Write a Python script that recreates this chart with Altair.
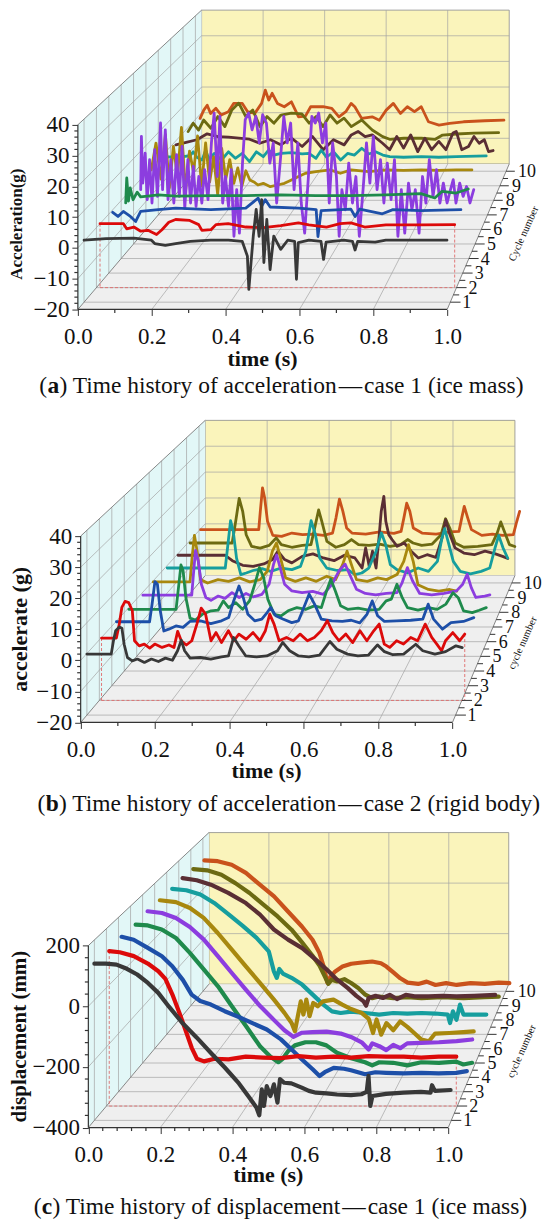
import altair as alt
import pandas as pd

SERIF = "Liberation Serif"

# ---------------- pseudo-3D projection constants (normalised) ----------------
DX = 0.335      # shift of the back face along the time direction
DU = 0.788      # upward shift of the back face
K = 0.167       # perspective shrink of the back face
UMAX = DU + 1 - K
TMAX = 1.17

CYCLES = [1, 2, 3, 4, 5, 6, 7, 8, 9, 10]
DEPTHS = [0.05, 0.15, 0.25, 0.35, 0.45, 0.55, 0.65, 0.75, 0.85, 0.95]
MIDDEPTHS = [0.1, 0.2, 0.3, 0.4, 0.5, 0.6, 0.7, 0.8, 0.9]
COLORS = ["#383838", "#dc0a0a", "#1d4fa8", "#1f8a4c", "#8c3ddf",
          "#a8880e", "#169e9e", "#5a2e34", "#6c6a12", "#c9521c"]
XMAJOR = [0.0, 0.2, 0.4, 0.6, 0.8, 1.0]
XMINOR_AB = [0.1, 0.3, 0.5, 0.7, 0.9]
XMINOR_C = [0.04, 0.08, 0.12, 0.16, 0.24, 0.28, 0.32, 0.36, 0.44, 0.48, 0.52, 0.56,
            0.64, 0.68, 0.72, 0.76, 0.84, 0.88, 0.92, 0.96]
XGRID = [0.2, 0.4, 0.6, 0.8]

# ---------------- (a) acceleration, case 1 (ice mass) ----------------
a1_t = [0.0, 0.06, 0.136, 0.184, 0.193, 0.222, 0.25, 0.29, 0.346, 0.394, 0.432, 0.446, 0.45, 0.456, 0.462, 0.47, 0.478, 0.485, 0.491, 0.499, 0.508, 0.518, 0.537, 0.556, 0.575, 0.58, 0.585, 0.614, 0.647, 0.654, 0.661, 0.709, 0.733, 0.74, 0.747, 0.795, 0.824, 0.919, 0.991]
a1_v = [0.3, 0.8, 1.0, 0.3, -0.8, -1.4, -0.8, -0.1, 0.3, 0.3, -0.1, -4.9, -15.8, -7.0, 1.6, 10.4, 1.6, 13.6, -7.0, 7.1, -9.3, 1.6, -2.7, 0.3, -0.1, -12.5, -0.5, 0.3, -0.1, -6.0, -0.3, 0.3, -0.1, -2.9, -0.1, -0.3, 0.3, 0.3, 0.3]
a2_t = [0.01, 0.075, 0.084, 0.104, 0.123, 0.143, 0.167, 0.182, 0.201, 0.22, 0.259, 0.284, 0.293, 0.318, 0.332, 0.366, 0.415, 0.464, 0.512, 0.561, 0.59, 0.639, 0.677, 0.707, 0.745, 0.804, 0.901, 0.995]
a2_v = [1.3, 1.3, -0.4, 0.2, -1.2, -0.9, -2.3, -0.7, 1.8, 2.7, 2.4, 1.0, -0.9, -0.7, 1.0, 1.3, 0.2, 0.0, 0.7, 1.6, 0.9, 0.2, 1.3, 1.6, 0.2, 0.9, 0.9, 1.0]
a3_t = [0.011, 0.026, 0.041, 0.061, 0.076, 0.09, 0.14, 0.189, 0.288, 0.387, 0.422, 0.432, 0.442, 0.456, 0.536, 0.586, 0.591, 0.6, 0.684, 0.696, 0.709, 0.773, 0.803, 0.882, 0.995]
a3_v = [0.6, -0.8, 0.9, -0.8, -2.5, 0.9, 1.5, 2.0, 1.5, 2.0, 5.4, 2.6, 4.9, 2.4, 2.0, 1.5, -7.6, 1.2, 1.7, -0.8, 1.7, 0.1, 1.5, 1.2, 1.5]
a4_t = [0.013, 0.016, 0.021, 0.026, 0.034, 0.046, 0.056, 0.107, 0.157, 0.258, 0.359, 0.459, 0.56, 0.661, 0.761, 0.862, 0.902, 0.923, 0.963, 0.998]
a4_v = [-0.8, 7.8, -0.2, 4.4, 0.3, 2.9, 1.3, 2.0, 1.5, 1.7, 1.7, 2.0, 1.7, 1.7, 2.0, 2.4, 0.9, 3.2, 2.6, 4.0]
a5_t = [0.021, 0.023, 0.027, 0.034, 0.040, 0.047, 0.054, 0.062, 0.070, 0.079,
        0.085, 0.093, 0.101, 0.109, 0.118, 0.126, 0.134, 0.142, 0.150, 0.159,
        0.167, 0.175, 0.183, 0.191, 0.200, 0.208, 0.218, 0.228, 0.236, 0.245,
        0.253, 0.261, 0.269, 0.278, 0.286, 0.294, 0.302, 0.310, 0.319, 0.327,
        0.337, 0.347, 0.358, 0.368, 0.378, 0.389, 0.399, 0.409, 0.419, 0.430,
        0.440, 0.450, 0.460, 0.470, 0.481, 0.491, 0.501, 0.512, 0.522, 0.532,
        0.542, 0.553, 0.563, 0.573, 0.583, 0.594, 0.602, 0.610, 0.620, 0.630,
        0.641, 0.651, 0.661, 0.672, 0.682, 0.692, 0.702, 0.713, 0.723, 0.733,
        0.743, 0.754, 0.764, 0.774, 0.784, 0.794, 0.805, 0.815, 0.825, 0.836,
        0.846, 0.856, 0.866, 0.877, 0.887, 0.897, 0.907, 0.918, 0.928, 0.936,
        0.944, 0.955, 0.965, 0.975, 0.985, 0.996]
a5_v = [-0.9, 17.8, 1.4, 11.9, -4.4, 9.6, -5.6, 13.1, -3.3, 22.5,
        -0.9, 20.1, -4.4, 9.6, -5.6, 11.4, -3.3, 14.3, -7.4, 9.6,
        -5.6, 7.3, -6.8, 3.7, -5.6, 6.1, -4.4, 15.5, 26.0, 3.7,
        24.8, -5.6, 3.7, -6.8, 6.1, -17.3, -0.9, -16.2, 8.4, 23.7,
        26.0, 20.1, 24.8, 15.5, 25.4, 22.5, 8.4, 15.5, -5.6, 9.6,
        24.8, 15.5, 22.5, -0.9, 15.5, -5.6, -16.2, 3.7, 24.8, 22.5,
        26.0, 15.5, 22.5, -5.6, 15.5, 3.7, -17.3, -0.9, -8.0, 8.4,
        -5.6, 3.7, -17.3, -0.9, 15.5, 1.4, 17.8, -0.9, 9.6, -5.6,
        8.4, -4.4, 9.6, -17.3, -0.9, -16.2, 1.4, -8.0, -0.9, -16.2,
        3.7, -5.6, 9.6, -3.3, 6.1, -5.6, 1.4, -5.6, -0.9, 2.6,
        -5.6, 1.4, -3.3, 0.2, -5.6, -0.9]
a6_t = [0.016, 0.03, 0.045, 0.058, 0.07, 0.082, 0.094, 0.106, 0.118, 0.13,
        0.142, 0.154, 0.166, 0.178, 0.19, 0.202, 0.214, 0.226, 0.238, 0.25,
        0.262, 0.274, 0.286, 0.298, 0.31, 0.322, 0.334,
        0.35, 0.371, 0.392, 0.413, 0.434, 0.455, 0.476, 0.507, 0.549, 0.58,
        0.612, 0.664, 0.716, 0.768, 0.821, 0.873, 0.925, 0.972]
a6_v = [1.3, 10.9, -2.0, 14.0, -5.0, 9.7, -1.0, 16.5, -6.5, 8.0,
        0.5, 13.5, -4.5, 11.0, -3.0, 6.0, -7.5, 9.0, -2.0, 5.0,
        -3.5, 2.0, -4.5, 1.0, -2.3, -3.0, -4.1,
        -3.5, -4.7, -4.1, -3.5, -2.3, -1.1, 0.1, 0.7, 1.3, 0.1,
        1.3, 0.7, 1.3, 1.1, 1.3, 1.1, 1.3, 1.3]
a7_t = [0.016, 0.053, 0.096, 0.106, 0.117, 0.133, 0.144, 0.154, 0.17, 0.192, 0.213, 0.234, 0.255, 0.277, 0.298, 0.319, 0.335, 0.351, 0.373, 0.405, 0.437, 0.458, 0.479, 0.495, 0.511, 0.532, 0.554, 0.575, 0.596, 0.618, 0.639, 0.66, 0.682, 0.703, 0.745, 0.799, 0.852, 0.905, 0.996]
a7_v = [1.2, 1.0, 1.5, 3.0, 1.0, 0.0, 3.6, 0.2, 2.4, 0.0, 3.0, 0.6, 2.4, -0.6, 3.0, 1.2, 3.6, 1.8, 2.4, 2.7, 2.2, 2.4, 0.6, 3.6, 1.0, 3.0, 0.0, 2.4, 1.8, 4.3, 2.2, 3.0, 1.8, 1.2, 1.0, 1.2, 1.0, 1.2, 1.5]
a8_t = [0.016, 0.048, 0.081, 0.113, 0.146, 0.179, 0.211, 0.244, 0.276, 0.309, 0.341, 0.374, 0.407, 0.439, 0.472, 0.504, 0.537, 0.559, 0.58, 0.602, 0.624, 0.656, 0.678, 0.7, 0.721, 0.743, 0.765, 0.787, 0.808, 0.83, 0.852, 0.874, 0.884, 0.901, 0.922, 0.939, 0.955, 0.971, 0.984, 0.998]
a8_v = [0.6, 1.5, 2.5, 4.7, 3.7, 3.5, 3.1, 2.7, 1.2, 2.5, 0.6, 3.1, 0.0, 3.7, -1.2, 2.5, 0.6, 4.3, 5.6, 3.7, 4.3, 1.2, -1.2, 3.7, -0.6, 4.3, -1.9, 3.1, -1.2, 1.9, -1.2, 5.0, 5.6, -1.2, 0.0, 3.7, 1.2, 2.5, -1.9, -1.5]
a9_t = [0.016, 0.032, 0.049, 0.065, 0.088, 0.11, 0.132, 0.154, 0.176, 0.198, 0.22, 0.243, 0.265, 0.287, 0.309, 0.342, 0.375, 0.398, 0.42, 0.442, 0.464, 0.486, 0.508, 0.531, 0.564, 0.597, 0.63, 0.652, 0.697, 0.752, 0.796, 0.819, 0.863, 0.918, 0.996]
a9_v = [0.5, 3.7, 1.1, 4.9, 1.8, 6.2, 2.4, 8.7, 11.3, 6.2, 8.7, 2.4, 6.2, 3.7, 6.8, 7.5, 7.2, 3.7, 6.2, 2.4, 6.8, 3.7, 5.6, 2.4, 4.9, 1.1, -1.4, -2.4, -2.0, -2.0, -2.4, -0.8, -0.4, -0.1, 0.1]
a10_t = [0.015, 0.027, 0.038, 0.049, 0.066, 0.083, 0.106, 0.123, 0.151, 0.168, 0.191, 0.213, 0.225, 0.236, 0.247, 0.264, 0.286, 0.309, 0.332, 0.354, 0.371, 0.411, 0.439, 0.462, 0.484, 0.501, 0.513, 0.535, 0.569, 0.592, 0.614, 0.637, 0.66, 0.682, 0.705, 0.727, 0.75, 0.784, 0.818, 0.863, 0.931, 0.993]
a10_v = [0.4, 3.6, 5.5, 2.3, 4.3, 1.7, 3.0, 6.2, 6.2, 3.0, 2.3, 6.2, 11.3, 7.5, 10.1, 6.2, 4.9, 6.8, 1.0, 1.3, 4.9, 4.9, 4.3, 1.0, 3.0, 6.2, 4.9, 0.4, 1.0, -0.3, 3.6, 6.2, 2.3, 4.9, 3.0, 4.9, -0.9, -2.2, -1.5, -0.9, -0.5, -0.3]

# ---------------- (b) acceleration, case 2 (rigid body) ----------------
b1_t = [0.0, 0.066, 0.072, 0.078, 0.088, 0.095, 0.101, 0.11, 0.123, 0.137, 0.156, 0.175, 0.194, 0.213, 0.232, 0.246, 0.256, 0.265, 0.28, 0.308, 0.336, 0.365, 0.384, 0.398, 0.412, 0.431, 0.46, 0.488, 0.517, 0.531, 0.55, 0.574, 0.602, 0.631, 0.659, 0.678, 0.707, 0.735, 0.764, 0.788, 0.807, 0.83, 0.859, 0.892, 0.911, 0.944, 0.973, 1.001, 1.018]
b1_v = [-0.2, -0.2, 4.1, 7.4, 8.6, 8.2, 3.0, -1.3, -2.4, -1.8, -2.9, -1.8, -2.6, -1.5, -2.2, 0.9, 4.3, 0.9, -1.5, -1.3, -1.8, -1.1, -0.8, 5.2, 2.5, -0.8, -1.1, -0.8, 0.9, 3.6, 0.9, -0.8, -1.1, -0.5, 3.9, 1.4, -0.2, -0.8, -0.5, 2.8, 0.6, -0.4, -0.2, 3.0, 0.9, -0.2, 0.6, 2.5, 1.9]
b2_t = [0.006, 0.047, 0.055, 0.062, 0.071, 0.081, 0.091, 0.097, 0.11, 0.124, 0.139, 0.153, 0.173, 0.192, 0.206, 0.216, 0.226, 0.24, 0.255, 0.269, 0.281, 0.293, 0.308, 0.322, 0.337, 0.356, 0.371, 0.385, 0.405, 0.424, 0.443, 0.458, 0.47, 0.482, 0.496, 0.516, 0.535, 0.554, 0.574, 0.593, 0.612, 0.629, 0.644, 0.661, 0.68, 0.699, 0.719, 0.738, 0.757, 0.772, 0.786, 0.801, 0.82, 0.839, 0.859, 0.878, 0.899, 0.917, 0.931, 0.944, 0.955, 0.975, 0.994, 1.008]
b2_v = [0.6, 0.6, 5.2, 10.7, 12.7, 12.3, 9.6, -0.3, -2.0, -1.4, -2.7, -1.4, -2.5, -1.7, -2.5, 2.8, -0.3, -1.7, -0.3, 5.2, 10.5, 8.5, -0.3, 2.4, -0.9, 3.0, -0.3, 1.9, 0.2, 2.4, -0.3, 3.0, 8.5, 5.2, -0.3, 0.8, -0.3, 1.9, -0.3, 0.8, 3.0, 6.3, 2.4, -0.3, 1.9, -0.9, 3.0, -0.3, 3.0, 5.2, -1.4, -2.5, -0.3, -1.4, 0.8, -0.3, 5.2, 0.8, -1.4, -3.6, -0.3, 2.4, -0.3, 1.9]
b3_t = [0.013, 0.106, 0.113, 0.121, 0.128, 0.136, 0.146, 0.16, 0.18, 0.2, 0.219, 0.249, 0.278, 0.308, 0.328, 0.342, 0.357, 0.369, 0.382, 0.401, 0.421, 0.436, 0.446, 0.46, 0.48, 0.505, 0.524, 0.539, 0.554, 0.569, 0.588, 0.618, 0.647, 0.672, 0.696, 0.716, 0.731, 0.746, 0.765, 0.799, 0.839, 0.873, 0.888, 0.903, 0.928, 0.952, 0.987, 1.016]
b3_v = [1.5, 1.5, 7.4, 15.0, 14.1, 5.2, -1.6, -1.0, 0.1, -0.4, 1.6, 1.8, 0.9, 1.8, 2.9, 8.5, 13.5, 9.6, 4.0, 1.8, 2.4, 4.6, 6.3, 3.5, 2.4, 1.2, 1.8, 6.3, 10.8, 7.4, 2.4, 1.8, 1.6, 2.0, 1.1, 4.0, 8.5, 3.5, 1.6, 1.8, 2.0, 2.4, 7.4, 2.4, -1.0, 1.2, 1.6, 2.9]
b4_t = [0.013, 0.148, 0.156, 0.162, 0.168, 0.176, 0.188, 0.203, 0.223, 0.248, 0.268, 0.283, 0.298, 0.318, 0.338, 0.358, 0.373, 0.386, 0.398, 0.41, 0.428, 0.448, 0.468, 0.493, 0.518, 0.543, 0.563, 0.578, 0.59, 0.603, 0.618, 0.638, 0.668, 0.698, 0.728, 0.748, 0.763, 0.779, 0.794, 0.809, 0.839, 0.869, 0.894, 0.919, 0.939, 0.954, 0.969, 0.994, 1.014, 1.034]
b4_v = [1.1, 1.1, 9.7, 16.3, 14.3, 5.1, -1.9, -2.6, -0.6, 0.6, 0.8, 4.0, 1.7, 3.4, 1.1, 4.0, 9.7, 15.4, 12.0, 4.6, -0.6, -1.1, 0.6, 1.7, 1.1, 2.3, 1.7, 7.4, 11.4, 7.4, 2.3, 1.1, 1.5, 0.8, 1.1, 4.0, 4.6, 9.7, 5.1, 1.7, 0.8, 1.7, 1.1, 2.9, 6.8, 5.1, 0.6, 0.0, 0.8, 1.7]
b5_t = [0.018, 0.16, 0.165, 0.171, 0.179, 0.188, 0.201, 0.216, 0.237, 0.257, 0.277, 0.298, 0.318, 0.339, 0.364, 0.385, 0.398, 0.407, 0.417, 0.43, 0.451, 0.481, 0.512, 0.543, 0.568, 0.588, 0.606, 0.619, 0.639, 0.665, 0.695, 0.726, 0.757, 0.772, 0.787, 0.802, 0.823, 0.858, 0.894, 0.93, 0.948, 0.961, 0.973, 0.986, 1.012, 1.027]
b5_v = [1.3, 1.3, 8.6, 16.9, 13.2, 5.1, 0.5, -0.5, 1.0, 0.2, 2.2, 0.5, 1.9, 0.7, 1.6, 5.1, 12.1, 15.3, 10.9, 5.1, 2.8, 2.2, 2.6, 1.6, 5.1, 9.7, 12.1, 8.6, 3.4, 1.9, 1.4, 1.9, 2.2, 5.7, 10.9, 6.3, 1.9, 1.4, 1.9, 2.8, 5.1, 8.6, 3.9, 0.5, 1.0, 1.4]
b6_t = [0.012, 0.121, 0.127, 0.134, 0.142, 0.152, 0.173, 0.204, 0.235, 0.267, 0.298, 0.329, 0.35, 0.365, 0.377, 0.389, 0.404, 0.433, 0.464, 0.495, 0.526, 0.552, 0.573, 0.586, 0.599, 0.614, 0.646, 0.677, 0.703, 0.734, 0.754, 0.768, 0.782, 0.796, 0.827, 0.858, 0.89, 0.911]
b6_v = [1.2, 1.2, 9.7, 17.7, 12.1, 2.0, 0.8, 2.0, 1.4, 2.6, 1.2, 2.0, 5.0, 12.1, 15.0, 9.7, 2.6, 1.4, 2.6, 1.4, 3.2, 2.0, 7.3, 12.1, 7.3, 2.0, 1.4, 2.6, 2.0, 3.8, 8.5, 14.4, 8.5, 0.2, -1.5, -2.1, -1.5, -2.1]
b7_t = [0.017, 0.192, 0.2, 0.208, 0.216, 0.226, 0.239, 0.255, 0.276, 0.303, 0.329, 0.361, 0.393, 0.419, 0.435, 0.451, 0.464, 0.477, 0.498, 0.53, 0.562, 0.583, 0.604, 0.625, 0.647, 0.663, 0.676, 0.69, 0.71, 0.742, 0.774, 0.805, 0.832, 0.846, 0.854, 0.864, 0.88, 0.901, 0.932, 0.964, 0.99, 1.006, 1.017, 1.03, 1.044]
b7_v = [1.3, 1.3, 9.8, 18.4, 14.6, 4.9, -1.1, -0.5, 0.4, 1.1, 0.1, 1.3, 0.7, 1.9, 7.3, 18.4, 13.4, 4.9, 1.3, 0.4, 0.7, -1.1, -0.5, 1.3, 7.3, 14.0, 9.8, 2.5, 0.7, -0.5, 1.3, 0.1, 3.7, 12.2, 15.5, 11.0, 3.7, 0.1, -0.8, 0.1, 1.3, 8.6, 13.1, 8.6, 4.9]
b8_t = [0.012, 0.157, 0.179, 0.211, 0.243, 0.276, 0.303, 0.319, 0.34, 0.362, 0.394, 0.427, 0.459, 0.492, 0.524, 0.556, 0.578, 0.589, 0.6, 0.61, 0.621, 0.63, 0.637, 0.645, 0.651, 0.66, 0.67, 0.686, 0.708, 0.729, 0.751, 0.778, 0.805, 0.824, 0.835, 0.848, 0.864, 0.891, 0.923, 0.956, 0.988, 1.01, 1.026]
b8_v = [1.0, 1.0, -1.0, -2.7, -3.1, -2.2, -0.6, 2.5, -0.6, -1.8, 0.6, 1.5, 0.0, -1.0, 1.0, 0.0, -3.7, 3.7, -3.1, 2.5, -3.7, 7.4, 17.2, 22.7, 13.5, 8.6, 6.8, 4.3, 5.5, 2.5, 0.0, 1.2, 0.2, 7.4, 14.1, 8.6, 3.7, 1.8, 1.2, 2.5, 1.5, 0.6, -0.2]
b9_t = [0.011, 0.143, 0.154, 0.165, 0.176, 0.187, 0.204, 0.231, 0.259, 0.281, 0.297, 0.33, 0.363, 0.39, 0.404, 0.414, 0.424, 0.44, 0.468, 0.495, 0.517, 0.539, 0.572, 0.605, 0.638, 0.671, 0.693, 0.71, 0.737, 0.77, 0.798, 0.812, 0.825, 0.842, 0.869, 0.913, 0.957, 0.974, 0.985, 0.996, 1.012, 1.029]
b9_v = [0.5, 0.5, 8.6, 17.2, 12.4, 3.6, -0.8, -1.4, -0.4, 2.4, -0.1, -1.1, -0.4, -0.1, 7.4, 12.9, 8.6, 1.1, -1.1, -0.1, 1.8, -0.1, -0.4, 0.1, -0.8, -0.1, 1.8, 0.5, -0.4, 0.1, 3.6, 9.6, 6.1, 0.5, -1.1, -0.8, -0.1, 4.3, 8.4, 4.9, -0.1, -0.8]
b10_t = [0.005, 0.191, 0.196, 0.203, 0.21, 0.219, 0.236, 0.264, 0.297, 0.331, 0.365, 0.398, 0.427, 0.438, 0.449, 0.46, 0.472, 0.489, 0.533, 0.578, 0.623, 0.646, 0.655, 0.664, 0.674, 0.685, 0.713, 0.758, 0.803, 0.831, 0.84, 0.848, 0.859, 0.871, 0.904, 0.938, 0.971, 1.005, 1.016, 1.025]
b10_v = [0.4, 0.4, 7.4, 16.4, 12.5, 3.6, -1.8, -2.2, -0.9, -1.5, -1.3, -1.8, -0.9, 4.9, 12.1, 7.4, 1.0, -0.9, -1.3, -0.5, -1.0, -0.3, 4.9, 10.5, 7.4, 1.0, -0.9, -1.3, -0.5, -0.3, 4.9, 9.3, 4.9, 0.4, -1.8, -1.3, -1.8, -1.5, 3.6, 7.4]

# ---------------- (c) displacement, case 1 (ice mass) ----------------
c1_t = [0.0, 0.032, 0.062, 0.091, 0.12, 0.15, 0.179, 0.209, 0.248, 0.287, 0.326, 0.366, 0.405, 0.434, 0.454, 0.462, 0.469, 0.475, 0.483, 0.493, 0.503, 0.513, 0.52, 0.532, 0.552, 0.581, 0.601, 0.621, 0.65, 0.68, 0.719, 0.748, 0.763, 0.768, 0.773, 0.779, 0.817, 0.866, 0.915, 0.942, 0.946, 0.954, 0.998]
c1_v = [121, 121, 118, 104, 85, 57, 24, -22, -78, -125, -175, -225, -277, -324, -357, -383, -297, -352, -286, -319, -280, -341, -263, -275, -277, -291, -302, -308, -310, -314, -316, -313, -305, -252, -352, -319, -312, -308, -305, -308, -283, -302, -299]
c2_t = [0.008, 0.038, 0.078, 0.118, 0.148, 0.168, 0.188, 0.208, 0.228, 0.243, 0.258, 0.278, 0.308, 0.348, 0.397, 0.447, 0.497, 0.547, 0.597, 0.647, 0.697, 0.747, 0.797, 0.847, 0.897, 0.947, 0.997]
c2_v = [124, 120, 107, 82, 56, 30, -23, -85, -152, -203, -240, -249, -240, -242, -233, -236, -238, -231, -236, -233, -236, -231, -233, -233, -236, -233, -233]
c3_t = [0.009, 0.044, 0.085, 0.126, 0.156, 0.187, 0.212, 0.237, 0.268, 0.308, 0.349, 0.39, 0.43, 0.471, 0.502, 0.532, 0.563, 0.583, 0.598, 0.624, 0.654, 0.674, 0.715, 0.745, 0.776, 0.827, 0.878, 0.928, 0.979, 1.01]
c3_v = [133, 123, 95, 66, 32, -16, -66, -88, -100, -123, -143, -165, -186, -220, -255, -289, -323, -346, -333, -318, -321, -326, -340, -333, -335, -337, -335, -337, -335, -329]
c4_t = [0.015, 0.051, 0.092, 0.134, 0.175, 0.216, 0.258, 0.299, 0.341, 0.382, 0.413, 0.436, 0.449, 0.465, 0.485, 0.516, 0.547, 0.578, 0.609, 0.651, 0.692, 0.713, 0.734, 0.775, 0.817, 0.858, 0.91, 0.961, 0.982, 1.008]
c4_v = [135, 132, 118, 88, 36, -22, -81, -151, -221, -291, -328, -347, -335, -308, -288, -277, -277, -288, -314, -333, -347, -358, -347, -349, -358, -347, -349, -345, -355, -349]
c5_t = [0.015, 0.058, 0.1, 0.142, 0.184, 0.226, 0.268, 0.31, 0.353, 0.395, 0.426, 0.453, 0.479, 0.51, 0.553, 0.595, 0.626, 0.658, 0.679, 0.69, 0.711, 0.732, 0.753, 0.774, 0.795, 0.837, 0.89, 0.943, 0.99]
c5_v = [141, 135, 117, 85, 40, -19, -79, -138, -197, -247, -283, -307, -292, -290, -288, -295, -307, -326, -352, -330, -340, -354, -335, -347, -330, -328, -326, -322, -316]
c6_t = [0.016, 0.065, 0.108, 0.15, 0.193, 0.236, 0.279, 0.322, 0.365, 0.397, 0.419, 0.429, 0.438, 0.447, 0.455, 0.464, 0.474, 0.485, 0.499, 0.515, 0.547, 0.574, 0.601, 0.633, 0.655, 0.668, 0.679, 0.693, 0.709, 0.73, 0.751, 0.773, 0.794, 0.816, 0.839, 0.858, 0.901, 0.944, 0.976]
c6_v = [139, 132, 111, 75, 20, -40, -101, -161, -222, -270, -307, -337, -282, -228, -276, -222, -282, -234, -246, -228, -222, -240, -256, -270, -292, -343, -294, -349, -307, -333, -301, -321, -343, -367, -373, -345, -343, -340, -337]
c7_t = [0.017, 0.061, 0.105, 0.148, 0.192, 0.236, 0.28, 0.318, 0.334, 0.343, 0.351, 0.362, 0.389, 0.422, 0.455, 0.488, 0.515, 0.542, 0.575, 0.619, 0.662, 0.706, 0.75, 0.794, 0.837, 0.876, 0.883, 0.892, 0.903, 0.914, 0.925, 0.957, 0.996]
c7_v = [138, 133, 117, 86, 45, 2, -43, -93, -167, -191, -158, -175, -191, -216, -253, -290, -315, -321, -316, -321, -327, -321, -323, -321, -323, -327, -358, -315, -346, -290, -327, -327, -327]
c8_t = [0.012, 0.057, 0.102, 0.157, 0.213, 0.258, 0.302, 0.347, 0.392, 0.436, 0.47, 0.503, 0.537, 0.564, 0.587, 0.595, 0.603, 0.625, 0.648, 0.67, 0.693, 0.721, 0.749, 0.793, 0.838, 0.882, 0.938, 1.005]
c8_v = [135, 127, 110, 79, 41, -3, -59, -97, -129, -173, -210, -248, -280, -309, -330, -346, -317, -309, -317, -305, -321, -305, -311, -311, -309, -311, -309, -305]
c9_t = [0.008, 0.053, 0.099, 0.144, 0.19, 0.235, 0.281, 0.326, 0.36, 0.394, 0.417, 0.434, 0.445, 0.456, 0.474, 0.497, 0.519, 0.542, 0.565, 0.587, 0.61, 0.656, 0.701, 0.747, 0.815, 0.883, 0.951, 0.997]
c9_v = [125, 120, 103, 71, 33, -12, -57, -108, -157, -208, -247, -288, -316, -300, -307, -298, -313, -332, -358, -371, -365, -371, -367, -371, -367, -371, -367, -365]
c10_t = [0.005, 0.049, 0.095, 0.142, 0.188, 0.235, 0.281, 0.327, 0.362, 0.385, 0.399, 0.411, 0.422, 0.437, 0.461, 0.49, 0.525, 0.559, 0.588, 0.606, 0.629, 0.652, 0.676, 0.711, 0.739, 0.768, 0.803, 0.838, 0.884, 0.931, 0.977, 1.012]
c10_v = [113, 110, 96, 64, 18, -28, -87, -146, -198, -250, -303, -366, -342, -322, -303, -292, -287, -283, -290, -303, -326, -349, -366, -371, -362, -375, -368, -375, -368, -371, -366, -368]

SER_A = [(a1_t, a1_v), (a2_t, a2_v), (a3_t, a3_v), (a4_t, a4_v), (a5_t, a5_v),
         (a6_t, a6_v), (a7_t, a7_v), (a8_t, a8_v), (a9_t, a9_v), (a10_t, a10_v)]
SER_B = [(b1_t, b1_v), (b2_t, b2_v), (b3_t, b3_v), (b4_t, b4_v), (b5_t, b5_v),
         (b6_t, b6_v), (b7_t, b7_v), (b8_t, b8_v), (b9_t, b9_v), (b10_t, b10_v)]
SER_C = [(c1_t, c1_v), (c2_t, c2_v), (c3_t, c3_v), (c4_t, c4_v), (c5_t, c5_v),
         (c6_t, c6_v), (c7_t, c7_v), (c8_t, c8_v), (c9_t, c9_v), (c10_t, c10_v)]

BACK_FILL = "#faf4bb"
SIDE_FILL = "#e2f7f7"
FLOOR_FILL = "#efefef"
CAP_SIZE = 23.5
BOLD_W = {"a": 0.5, "b": 0.556, "c": 0.444}
DASH = "\u200a\u2014\u200a"


def proj(t, v, d, vmin, vmax):
    s = 1 - K * d
    u = (v - vmin) / (vmax - vmin)
    return DX * d + s * t, vmin + (DU * d + s * u) * (vmax - vmin)


def seg_df(segs, vmin, vmax):
    rows = []
    for (t1, v1, d1, t2, v2, d2) in segs:
        x, y = proj(t1, v1, d1, vmin, vmax)
        x2, y2 = proj(t2, v2, d2, vmin, vmax)
        rows.append({"x": x, "y": y, "x2": x2, "y2": y2})
    return pd.DataFrame(rows)


def make_panel(series, vmin, vmax, ymajor, ystep, xminor, fw, fh, shift, ytitle, ytsize, yt_dx, yt_dy,
               xt_dy, ztitle, z_dx, z_dy, letter, caption, cap_dx, cap_dy, sw, extra_bottom):
    t0 = -shift / fw
    W = fw * (TMAX - t0)
    H = fh * UMAX
    vr = vmax - vmin
    xs = alt.Scale(domain=[t0, TMAX], nice=False, zero=False)
    ys = alt.Scale(domain=[vmin, vmin + UMAX * vr], nice=False, zero=False)
    majors = list(range(vmin, vmax + 1, ymajor))
    minors = [v for v in range(vmin, vmax + 1, ystep) if v not in majors]
    xax = alt.Axis(values=XMAJOR, format=".1f", domain=False, grid=False, tickSize=6,
                   tickColor="#333", tickWidth=1, labelFont=SERIF, labelFontSize=23,
                   labelColor="#111", labelPadding=10, labelFlush=False, labelOverlap=False,
                   title=None)
    yax = alt.Axis(values=majors, format="d", domain=False, grid=False, tickSize=6,
                   tickColor="#333", tickWidth=1, labelFont=SERIF, labelFontSize=23,
                   labelColor="#111", labelPadding=3, labelFlush=False, labelOverlap=False,
                   offset=-shift, title=None)

    def X(f):
        return alt.X(f"{f}:Q", scale=xs, axis=xax)

    def Y(f):
        return alt.Y(f"{f}:Q", scale=ys, axis=yax)

    def rules(segs, **kw):
        return (alt.Chart(seg_df(segs, vmin, vmax)).mark_rule(**kw)
                .encode(x=X("x"), y=Y("y"), x2="x2", y2="y2"))

    def label(x, y, text, **kw):
        return (alt.Chart(pd.DataFrame([{"x": x, "y": y, "label": text}]))
                .mark_text(font=SERIF, color="#111", **kw)
                .encode(x=X("x"), y=Y("y"), text="label:N"))

    layers = []
    # back wall
    bx, by = proj(0, vmin, 1, vmin, vmax)
    bx2, by2 = proj(1, vmax, 1, vmin, vmax)
    back = pd.DataFrame([{"x": bx, "x2": bx2, "y": by, "y2": by2}])
    layers.append(alt.Chart(back).mark_rect(fill=BACK_FILL, stroke="#8c8c8c", strokeWidth=0.8)
                  .encode(x=X("x"), x2="x2", y=Y("y"), y2="y2"))
    # side wall
    side_rows = []
    for d in [0, 1]:
        sx, sy = proj(0, vmin, d, vmin, vmax)
        _, sy2 = proj(0, vmax, d, vmin, vmax)
        side_rows.append({"x": sx, "y": sy, "y2": sy2})
    layers.append(alt.Chart(pd.DataFrame(side_rows)).mark_area(color=SIDE_FILL, orient="vertical")
                  .encode(x=X("x"), y=Y("y"), y2="y2"))
    # floor
    fl_rows = []
    for d in [0, 1]:
        fx, fy = proj(0, vmin, d, vmin, vmax)
        fx2, _ = proj(1, vmin, d, vmin, vmax)
        fl_rows.append({"y": fy, "x": fx, "x2": fx2})
    layers.append(alt.Chart(pd.DataFrame(fl_rows)).mark_area(color=FLOOR_FILL, orient="horizontal")
                  .encode(y=Y("y"), x=X("x"), x2="x2"))
    # grid lines
    grid = []
    for t in XGRID:
        grid.append((t, vmin, 1, t, vmax, 1))
        grid.append((t, vmin, 0, t, vmin, 1))
    for v in majors[1:-1]:
        grid.append((0, v, 1, 1, v, 1))
        grid.append((0, v, 0, 0, v, 1))
    for d in DEPTHS:
        grid.append((0, vmin, d, 0, vmax, d))
        grid.append((0, vmin, d, 1, vmin, d))
    layers.append(rules(grid, color="#a3a3a3", strokeWidth=0.7))
    # box edges
    layers.append(rules([(0, vmax, 0, 0, vmax, 1), (0, vmin, 0, 0, vmin, 1), (1, vmin, 0, 1, vmin, 1)],
                        color="#7a7a7a", strokeWidth=0.9))
    # drop lines of cycle 2
    t2, v2 = series[1]
    d2 = DEPTHS[1]
    layers.append(rules([(t2[0], v2[0], d2, t2[0], vmin, d2), (t2[-1], v2[-1], d2, t2[-1], vmin, d2),
                         (t2[0], vmin, d2, t2[-1], vmin, d2)],
                        color="#e06a6a", strokeWidth=0.9, strokeDash=[3, 2]))
    # front axis edges + minor ticks
    tick_t = 3.5 / fw
    tick_v = 3.5 * vr / fh
    front = [(0, vmin, 0, 1, vmin, 0), (0, vmin, 0, 0, vmax, 0)]
    front += [(-tick_t, v, 0, 0, v, 0) for v in minors]
    front += [(t, vmin - tick_v, 0, t, vmin, 0) for t in xminor]
    layers.append(rules(front, color="#333333", strokeWidth=1.2))
    # series, back to front
    for idx in range(9, -1, -1):
        ts, vs = series[idx]
        d = DEPTHS[idx]
        rows = []
        for i, (t, v) in enumerate(zip(ts, vs)):
            T, V = proj(t, v, d, vmin, vmax)
            rows.append({"T": T, "V": V, "i": i})
        layers.append(alt.Chart(pd.DataFrame(rows))
                      .mark_line(color=COLORS[idx], strokeWidth=sw, strokeJoin="round", strokeCap="round")
                      .encode(x=X("T"), y=Y("V"), order="i:Q"))
    # cycle-number axis ticks and labels
    ticks = [(1, vmin, d, 1.028, vmin, d) for d in DEPTHS] + \
            [(1, vmin, d, 1.016, vmin, d) for d in MIDDEPTHS]
    layers.append(rules(ticks, color="#333333", strokeWidth=1))
    lab_rows = []
    for k, d in zip(CYCLES, DEPTHS):
        lx, ly = proj(1, vmin, d, vmin, vmax)
        lab_rows.append({"x": lx, "y": ly, "label": str(k)})
    layers.append(alt.Chart(pd.DataFrame(lab_rows))
                  .mark_text(align="left", baseline="middle", dx=12, dy=1, font=SERIF,
                             fontSize=18, color="#111")
                  .encode(x=X("x"), y=Y("y"), text="label:N"))
    zx, zy = proj(1, vmin, 0.5, vmin, vmax)
    layers.append(label(zx, zy, ztitle, align="center", baseline="middle", dx=z_dx, dy=z_dy,
                        angle=294, fontSize=10.5))
    # axis titles
    layers.append(label(0.0, vmin + 0.5 * vr, ytitle, align="center", baseline="middle", angle=270,
                        dx=yt_dx, dy=yt_dy, fontSize=ytsize, fontWeight="bold"))
    layers.append(label(0.5, vmin, "time (s)", align="center", baseline="middle", dy=xt_dy,
                        fontSize=22, fontWeight="bold"))
    # caption: "(" + bold letter + ") ..."
    w_open = 0.333 * CAP_SIZE
    w_let = BOLD_W[letter] * CAP_SIZE
    layers.append(label(0.0, vmin, "(", align="left", baseline="middle", dx=cap_dx, dy=cap_dy,
                        fontSize=CAP_SIZE))
    layers.append(label(0.0, vmin, letter, align="left", baseline="middle", dx=cap_dx + w_open + 0.3,
                        dy=cap_dy, fontSize=CAP_SIZE, fontWeight="bold"))
    layers.append(label(0.0, vmin, ")" + caption, align="left", baseline="middle",
                        dx=cap_dx + w_open + w_let + 0.6, dy=cap_dy, fontSize=CAP_SIZE))
    if extra_bottom > 0:
        # transparent spacer below the caption (keeps the gap to the next panel)
        layers.append(label(0.0, vmin, "(", align="left", baseline="middle", dx=cap_dx,
                            dy=cap_dy + extra_bottom, fontSize=CAP_SIZE, opacity=0))

    return alt.layer(*layers).properties(width=W, height=H)


pa = make_panel(SER_A, -20, 40, 10, 2, XMINOR_AB, 370, 185, 0.0, "Acceleration(g)", 17, -7, -60.5, 49.3,
                "Cycle number", 21.2, 40.6, "a",
                " Time history of acceleration" + DASH + "case 1 (ice mass)", -38.6, 76.3, 2.8, 6)
pb = make_panel(SER_B, -20, 40, 10, 2, XMINOR_AB, 372.5, 186.7, 2.8, "accelerate (g)", 22, 0, -61, 48.3,
                "cycle number", 21.5, 33.3, "b",
                " Time history of acceleration" + DASH + "case 2 (rigid body)", -43.2, 81.3, 2.8, 0)
pc = make_panel(SER_C, -400, 200, 200, 40, XMINOR_C, 360.6, 182.3, 10.5, "displacement (mm)", 21, 0, -68.7,
                47.7, "cycle number", 21.8, 37.8, "c",
                " Time history of displacement" + DASH + "case 1 (ice mass)", -54.7, 79.7, 4.2, 0)

chart = alt.vconcat(pa, pb, pc, spacing=16, padding=0).configure_view(stroke=None)

chart.save("out.html", embed_options={"renderer": "svg", "actions": False})
